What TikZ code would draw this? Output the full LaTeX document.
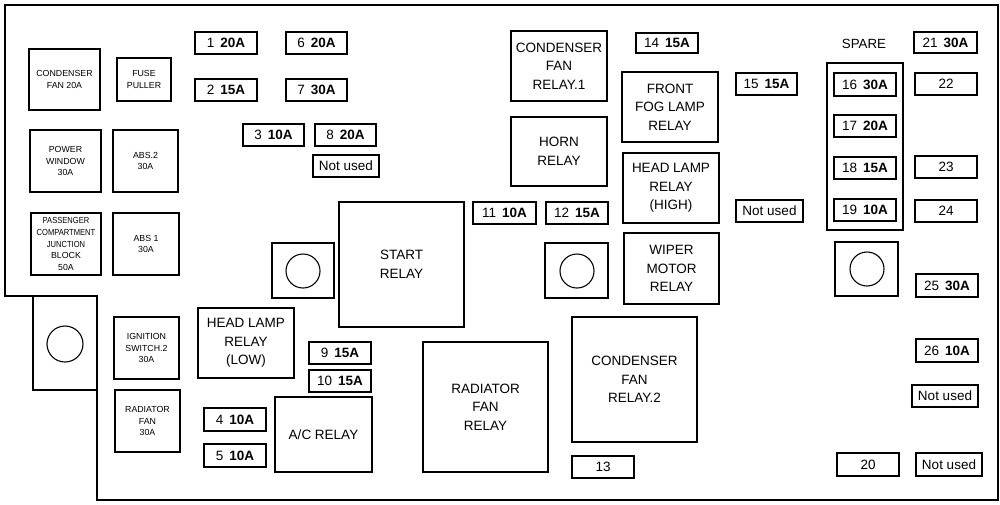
\documentclass[tikz,border=0pt]{standalone}
\usepackage{fontspec}
\setmainfont{Liberation Sans}
\tikzset{
  outline/.style={draw, line width=1.5pt, line join=miter},
  relaybox/.style={draw, line width=1.1pt, inner sep=0pt, align=center, font=\fontsize{13.5}{18.5}\selectfont},
  fusebox/.style={draw, line width=1.1pt, inner sep=0pt, font=\fontsize{13.5}{15}\selectfont},
  smallbox/.style={draw, line width=1.1pt, inner sep=0pt, align=center, font=\fontsize{8.8}{11.8}\selectfont},
  hole/.style={draw, line width=1.1pt, circle, inner sep=0pt, minimum size=34pt},
  lbl/.style={inner sep=0pt, font=\fontsize{13.3}{15}\selectfont}
}
\newcommand\bx[7]{%
  \pgfmathsetmacro\cxx{(#2+#4)/2}\pgfmathsetmacro\cyy{(#3+#5)/2}%
  \pgfmathsetmacro\bww{#4-#2}\pgfmathsetmacro\bhh{#5-#3}%
  \node[#6, minimum width=\bww pt, minimum height=\bhh pt] (#1) at (\cxx,\cyy) {#7};}
\newcommand\fz[2]{#1\hspace{0.45em}\textbf{#2}}
\newcommand\narrowtxt[1]{\scalebox{0.86}[1]{#1}}
\begin{document}
\begin{tikzpicture}[x=1pt,y=-1pt]
\useasboundingbox (0,0) rectangle (1000,504);
% outer outline
\draw[outline] (5,5) -- (998,5) -- (998,500) -- (97,500) -- (97,296) -- (5,296) -- cycle;
\draw[line width=1.1pt] (33,296) rectangle (97,390);
\node[hole, minimum size=36pt] (h0) at (65,344) {};
% left small fuses
\bx{cf20}{29}{49}{100}{110}{smallbox}{CONDENSER\\FAN 20A}
\bx{puller}{117}{58}{171}{101}{smallbox}{FUSE\\PULLER}
\bx{pw}{30}{130}{101}{192}{smallbox}{POWER\\WINDOW\\30A}
\bx{abs2}{113}{130}{178}{192}{smallbox}{ABS.2\\30A}
\bx{pcjb}{31}{213}{101}{275}{smallbox}{\narrowtxt{PASSENGER}\\\narrowtxt{COMPARTMENT}\\\narrowtxt{JUNCTION}\\BLOCK\\50A}
\bx{abs1}{113}{213}{179}{275}{smallbox}{ABS 1\\30A}
\bx{ign2}{114}{317}{179}{379}{smallbox}{IGNITION\\SWITCH.2\\30A}
\bx{radfan}{115}{390}{180}{452}{smallbox}{RADIATOR\\FAN\\30A}
% fuses
\bx{f1}{195}{32}{257}{54}{fusebox}{\fz{1}{20A}}
\bx{f6}{286}{32}{347}{54}{fusebox}{\fz{6}{20A}}
\bx{f2}{195}{79}{257}{101}{fusebox}{\fz{2}{15A}}
\bx{f7}{286}{79}{347}{101}{fusebox}{\fz{7}{30A}}
\bx{f3}{243}{124}{304}{146}{fusebox}{\fz{3}{10A}}
\bx{f8}{315}{124}{376}{146}{fusebox}{\fz{8}{20A}}
\bx{nu1}{313}{155}{379}{177}{fusebox}{Not used}
\bx{f11}{473}{202}{536}{224}{fusebox}{\fz{11}{10A}}
\bx{f12}{546}{202}{608}{224}{fusebox}{\fz{12}{15A}}
\bx{f14}{636}{33}{698}{53}{fusebox}{\fz{14}{15A}}
\bx{f15}{736}{73}{797}{95}{fusebox}{\fz{15}{15A}}
\bx{f21}{914}{32}{977}{53}{fusebox}{\fz{21}{30A}}
\draw[line width=1.1pt] (827,63) rectangle (903,230);
\node[lbl] (spare) at (864,44) {SPARE};
\bx{f16}{834}{73}{896}{96}{fusebox}{\fz{16}{30A}}
\bx{f17}{834}{115}{896}{137}{fusebox}{\fz{17}{20A}}
\bx{f18}{834}{157}{896}{179}{fusebox}{\fz{18}{15A}}
\bx{f19}{834}{199}{896}{221}{fusebox}{\fz{19}{10A}}
\bx{f22}{915}{73}{977}{95}{fusebox}{22}
\bx{f23}{915}{156}{977}{178}{fusebox}{23}
\bx{f24}{915}{200}{977}{222}{fusebox}{24}
\bx{nu2}{736}{200}{803}{222}{fusebox}{Not used}
\bx{f25}{916}{274}{978}{297}{fusebox}{\fz{25}{30A}}
\bx{f26}{916}{339}{978}{362}{fusebox}{\fz{26}{10A}}
\bx{nu3}{912}{385}{978}{407}{fusebox}{Not used}
\bx{f20}{837}{453}{899}{476}{fusebox}{20}
\bx{nu4}{916}{453}{982}{476}{fusebox}{Not used}
\bx{f13}{572}{456}{634}{478}{fusebox}{13}
\bx{f9}{309}{342}{371}{364}{fusebox}{\fz{9}{15A}}
\bx{f10}{309}{370}{371}{392}{fusebox}{\fz{10}{15A}}
\bx{f4}{204}{408}{266}{431}{fusebox}{\fz{4}{10A}}
\bx{f5}{204}{444}{266}{467}{fusebox}{\fz{5}{10A}}
% relays
\bx{cfr1}{511}{31}{607}{101}{relaybox}{CONDENSER\\FAN\\RELAY.1}
\bx{fog}{622}{72}{718}{142}{relaybox}{FRONT\\FOG LAMP\\RELAY}
\bx{horn}{511}{117}{607}{186}{relaybox}{HORN\\RELAY}
\bx{hlh}{623}{153}{719}{223}{relaybox}{HEAD LAMP\\RELAY\\(HIGH)}
\bx{wiper}{624}{233}{719}{304}{relaybox}{WIPER\\MOTOR\\RELAY}
\bx{start}{339}{202}{464}{327}{relaybox}{START\\RELAY}
\bx{hll}{198}{308}{294}{378}{relaybox}{HEAD LAMP\\RELAY\\(LOW)}
\bx{ac}{275}{397}{372}{472}{relaybox}{A/C RELAY}
\bx{rfr}{423}{342}{548}{472}{relaybox}{RADIATOR\\FAN\\RELAY}
\bx{cfr2}{572}{317}{697}{442}{relaybox}{CONDENSER\\FAN\\RELAY.2}
% mounting holes
\bx{hb1}{272}{243}{334}{298}{fusebox}{}
\node[hole] (h1) at (303,271) {};
\bx{hb2}{545}{243}{608}{298}{fusebox}{}
\node[hole] (h2) at (577,271) {};
\bx{hb3}{835}{242}{898}{296}{fusebox}{}
\node[hole] (h3) at (867,269) {};
\end{tikzpicture}
\end{document}
